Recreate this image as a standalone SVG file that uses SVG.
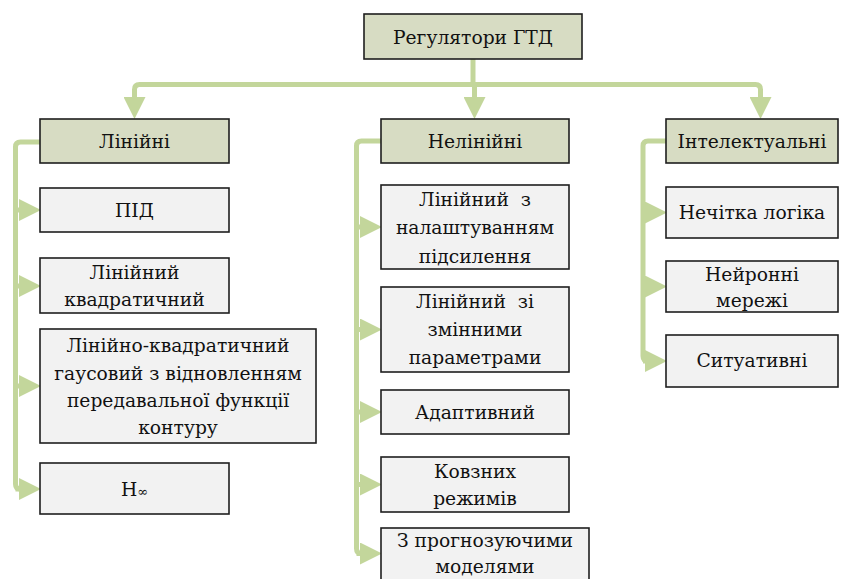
<svg xmlns="http://www.w3.org/2000/svg" width="845" height="579" viewBox="0 0 845 579">
<style>
.hdr{fill:#d7dcc3;stroke:#1e1e1e;stroke-width:1.6}
.box{fill:#f2f2f2;stroke:#1e1e1e;stroke-width:1.6}
.t{font-family:'DejaVu Serif','Liberation Serif',serif;font-size:18.7px;fill:#111;text-anchor:middle}
.ln{fill:none;stroke:#c3d69b;stroke-width:5}
</style>
<defs>
<marker id="ar" viewBox="0 0 22 22" refX="0" refY="11" markerWidth="22" markerHeight="22" markerUnits="userSpaceOnUse" orient="auto">
<path d="M0,0 L22,11 L0,22 z" fill="#c3d69b"/>
</marker>
</defs>
<g id="connectors">
<path class="ln" d="M473,59 V84.5"/>
<path class="ln" d="M134.5,98 V89.5 Q134.5,84.5 139.5,84.5 H755.5 Q760.5,84.5 760.5,89.5 V98"/>
<path class="ln" d="M134.5,90 V97" marker-end="url(#ar)"/>
<path class="ln" d="M474.5,84.5 V97" marker-end="url(#ar)"/>
<path class="ln" d="M760.5,90 V97" marker-end="url(#ar)"/>
<path class="ln" d="M40,142 H20.5 Q15.5,142 15.5,147 V484 Q15.5,489 20.5,489"/>
<path class="ln" d="M15.5,210 H19" marker-end="url(#ar)"/>
<path class="ln" d="M15.5,286 H19" marker-end="url(#ar)"/>
<path class="ln" d="M15.5,386 H19" marker-end="url(#ar)"/>
<path class="ln" d="M15.5,489 H19" marker-end="url(#ar)"/>
<path class="ln" d="M381,141 H361.5 Q356.5,141 356.5,146 V548.5 Q356.5,553.5 361.5,553.5"/>
<path class="ln" d="M356.5,227 H360" marker-end="url(#ar)"/>
<path class="ln" d="M356.5,329.5 H360" marker-end="url(#ar)"/>
<path class="ln" d="M356.5,412 H360" marker-end="url(#ar)"/>
<path class="ln" d="M356.5,484.5 H360" marker-end="url(#ar)"/>
<path class="ln" d="M356.5,553.5 H360" marker-end="url(#ar)"/>
<path class="ln" d="M666,141 H648 Q643,141 643,146 V356 Q643,361 648,361"/>
<path class="ln" d="M643,212.5 H645" marker-end="url(#ar)"/>
<path class="ln" d="M643,286.5 H645" marker-end="url(#ar)"/>
<path class="ln" d="M643,361 H645" marker-end="url(#ar)"/>
</g>
<g id="root"><rect class="hdr" x="364" y="14" width="218" height="45"/><text class="t" x="473" y="44">Регулятори ГТД</text></g>
<g id="linear"><rect class="hdr" x="40" y="119" width="189" height="44"/><text class="t" x="134.5" y="148">Лінійні</text></g>
<g id="pid"><rect class="box" x="40" y="188" width="189" height="44"/><text class="t" x="134.5" y="217">ПІД</text></g>
<g id="lq"><rect class="box" x="40" y="258" width="189" height="55"/><text class="t" x="134.5" y="279">Лінійний</text><text class="t" x="134.5" y="306">квадратичний</text></g>
<g id="lqg"><rect class="box" x="40" y="329" width="276" height="114"/><text class="t" x="178" y="352">Лінійно-квадратичний</text><text class="t" x="178" y="380">гаусовий з відновленням</text><text class="t" x="178" y="407">передавальної функції</text><text class="t" x="178" y="434">контуру</text></g>
<g id="hinf"><rect class="box" x="40" y="463" width="189" height="51"/><text class="t" x="134.5" y="496">H<tspan font-size="13">∞</tspan></text></g>
<g id="nonlinear"><rect class="hdr" x="381" y="119" width="188" height="44"/><text class="t" x="475" y="148">Нелінійні</text></g>
<g id="gs"><rect class="box" x="381" y="185" width="188" height="84"/><text class="t" x="475" y="206" xml:space="preserve">Лінійний  з</text><text class="t" x="475" y="234">налаштуванням</text><text class="t" x="475" y="263">підсилення</text></g>
<g id="lpv"><rect class="box" x="381" y="287" width="188" height="85"/><text class="t" x="475" y="308" xml:space="preserve">Лінійний  зі</text><text class="t" x="475" y="336">змінними</text><text class="t" x="475" y="364">параметрами</text></g>
<g id="adaptive"><rect class="box" x="381" y="390" width="188" height="44"/><text class="t" x="475" y="419">Адаптивний</text></g>
<g id="smc"><rect class="box" x="381" y="457" width="188" height="55"/><text class="t" x="475" y="478">Ковзних</text><text class="t" x="475" y="505">режимів</text></g>
<g id="mpc"><rect class="box" x="381" y="528" width="208" height="53"/><text class="t" x="485" y="547">З прогнозуючими</text><text class="t" x="485" y="573">моделями</text></g>
<g id="intel"><rect class="hdr" x="666" y="119" width="172" height="44"/><text class="t" x="752" y="148">Інтелектуальні</text></g>
<g id="fuzzy"><rect class="box" x="666" y="187" width="172" height="51"/><text class="t" x="752" y="219">Нечітка логіка</text></g>
<g id="nn"><rect class="box" x="666" y="261" width="172" height="51"/><text class="t" x="752" y="281">Нейронні</text><text class="t" x="752" y="307">мережі</text></g>
<g id="situ"><rect class="box" x="666" y="335" width="172" height="52"/><text class="t" x="752" y="367">Ситуативні</text></g>
</svg>
